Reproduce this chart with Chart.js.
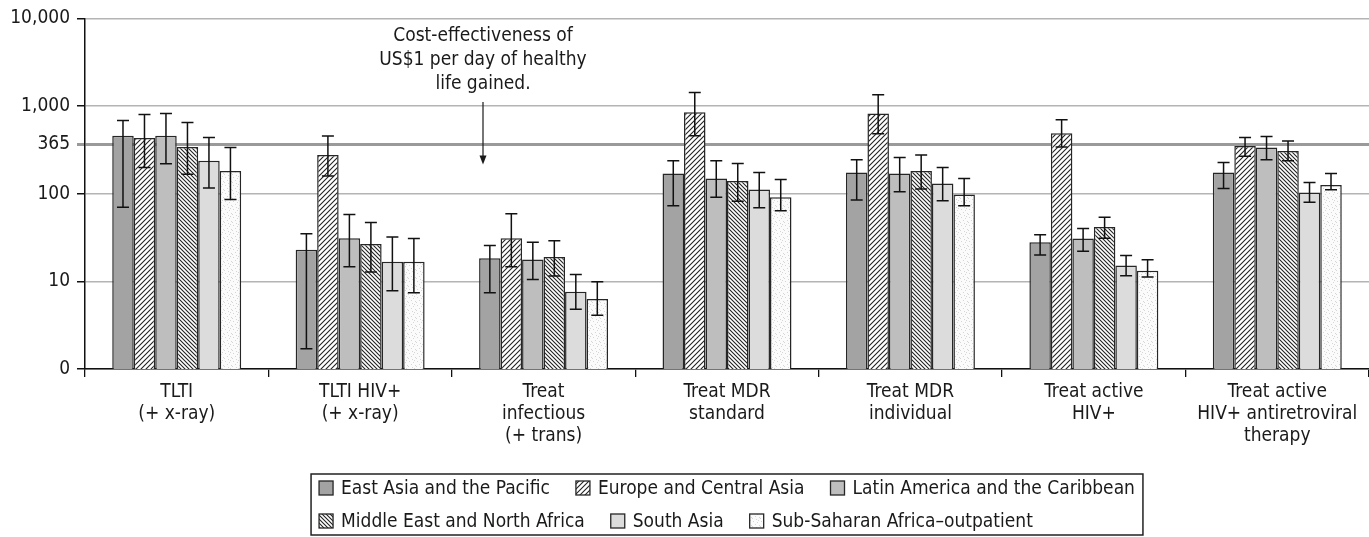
<!DOCTYPE html>
<html>
<head>
<meta charset="utf-8">
<script src="https://cdn.jsdelivr.net/npm/chart.js@4.4.1/dist/chart.umd.min.js"></script>
<style>
  body { margin: 0; background: #fff; }
  #wrap { width: 1369px; height: 537px; position: relative; }
</style>
</head>
<body>
<div id="wrap"><canvas id="chart"></canvas></div>
<script>
// categories and tick labels
var categories = [
    ['TLTI', '(+ x-ray)'],
    ['TLTI HIV+', '(+ x-ray)'],
    ['Treat', 'infectious', '(+ trans)'],
    ['Treat MDR', 'standard'],
    ['Treat MDR', 'individual'],
    ['Treat active', 'HIV+'],
    ['Treat active', 'HIV+ antiretroviral', 'therapy']
];
var yTicks = [1, 10, 100, 365, 1000, 10000];
var seriesNames = ['East Asia and the Pacific', 'Europe and Central Asia', 'Latin America and the Caribbean',
    'Middle East and North Africa', 'South Asia', 'Sub-Saharan Africa\u2013outpatient'];

// values (US$ per DALY, log scale) with low / high error ranges
var eastAsia      = [457, 23, 18.4, 170, 175, 28, 175];
var eastAsiaLow   = [70, 1.7, 7.4, 73, 85, 20, 115];
var eastAsiaHigh  = [684, 35, 25.7, 237, 244, 34, 227];

var europe        = [431, 277, 31, 851, 822, 491, 349];
var europeLow     = [199, 159, 14.7, 457, 482, 340, 268];
var europeHigh    = [800, 454, 59, 1425, 1343, 696, 437];

var latinAm       = [457, 31, 17.8, 149, 170, 30.8, 336];
var latinAmLow    = [219, 14.7, 10.5, 91, 105, 22, 244];
var latinAmHigh   = [822, 58, 28, 237, 259, 40, 449];

var mena          = [340, 26.6, 19, 140, 182, 41.6, 308];
var menaLow       = [167, 12.8, 11.5, 82, 113, 31, 237];
var menaHigh      = [649, 47, 29, 221, 277, 54, 398];

var southAsia     = [237, 16.7, 7.6, 112, 131, 15.2, 103];
var southAsiaLow  = [116, 7.8, 4.8, 69, 83, 11.6, 80];
var southAsiaHigh = [437, 32, 12, 175, 199, 19.7, 134];

var ssa           = [182, 16.7, 6.3, 91, 98, 13.2, 126];
var ssaLow        = [86, 7.4, 4.1, 64, 73, 11.2, 111];
var ssaHigh       = [336, 30.8, 9.9, 145, 149, 17.6, 170];

var FONT = "'Liberation Sans Narrow', 'DejaVu Sans Condensed', 'Roboto Condensed', sans-serif";
var FSIZE = 19;

// fill patterns
function hatch(size, dir) {
    var c = document.createElement('canvas');
    c.width = c.height = size;
    var g = c.getContext('2d');
    g.fillStyle = '#fff';
    g.fillRect(0, 0, size, size);
    g.strokeStyle = '#222';
    g.lineWidth = 1.1;
    g.beginPath();
    if (dir === '/') {
        g.moveTo(-1, size + 1); g.lineTo(size + 1, -1);
        g.moveTo(-1, 1); g.lineTo(1, -1);
        g.moveTo(size - 1, size + 1); g.lineTo(size + 1, size - 1);
    } else {
        g.moveTo(-1, -1); g.lineTo(size + 1, size + 1);
        g.moveTo(size - 1, -1); g.lineTo(size + 1, 1);
        g.moveTo(-1, size - 1); g.lineTo(1, size + 1);
    }
    g.stroke();
    return g.createPattern(c, 'repeat');
}
function stipple() {
    var c = document.createElement('canvas');
    c.width = c.height = 8;
    var g = c.getContext('2d');
    g.fillStyle = '#fbfbfb';
    g.fillRect(0, 0, 8, 8);
    g.fillStyle = '#d6d6d6';
    [[1, 1], [5, 2], [3, 4], [7, 5], [0, 6], [4, 7], [6, 0]].forEach(function(p) {
        g.fillRect(p[0], p[1], 1, 1);
    });
    return g.createPattern(c, 'repeat');
}

var fills = ['#a3a3a3', hatch(5, '/'), '#bebebe', hatch(4, '\\'), '#dcdcdc', stipple()];
var values = [eastAsia, europe, latinAm, mena, southAsia, ssa];
var lows = [eastAsiaLow, europeLow, latinAmLow, menaLow, southAsiaLow, ssaLow];
var highs = [eastAsiaHigh, europeHigh, latinAmHigh, menaHigh, southAsiaHigh, ssaHigh];

var datasets = values.map(function(v, i) {
    return {
        label: seriesNames[i],
        data: v,
        backgroundColor: fills[i],
        borderColor: '#262626',
        borderWidth: 1.5,
        categoryPercentage: 0.703,
        barPercentage: 1.0
    };
});

// error bars drawn from the low/high arrays through the y scale
var errorBars = {
    id: 'errorBars',
    afterDatasetsDraw: function(chart) {
        var ctx = chart.ctx, y = chart.scales.y;
        ctx.save();
        ctx.strokeStyle = '#111';
        ctx.lineWidth = 1.5;
        chart.data.datasets.forEach(function(ds, i) {
            chart.getDatasetMeta(i).data.forEach(function(bar, j) {
                var yl = y.getPixelForValue(lows[i][j]);
                var yh = y.getPixelForValue(highs[i][j]);
                ctx.beginPath();
                ctx.moveTo(bar.x, yl); ctx.lineTo(bar.x, yh);
                ctx.moveTo(bar.x - 6, yl); ctx.lineTo(bar.x + 6, yl);
                ctx.moveTo(bar.x - 6, yh); ctx.lineTo(bar.x + 6, yh);
                ctx.stroke();
            });
        });
        ctx.restore();
    }
};

// note and arrow
var note = {
    id: 'note',
    afterDraw: function(chart) {
        var ctx = chart.ctx, y = chart.scales.y;
        var cx = 483;
        ctx.save();
        ctx.fillStyle = '#1a1a1a';
        ctx.font = FSIZE + 'px ' + FONT;
        ctx.textAlign = 'center';
        ctx.textBaseline = 'middle';
        ['Cost-effectiveness of', 'US$1 per day of healthy', 'life gained.'].forEach(function(t, k) {
            ctx.fillText(t, cx, 36 + k * 24);
        });
        var tip = y.getPixelForValue(215);
        ctx.strokeStyle = '#1a1a1a';
        ctx.lineWidth = 1.2;
        ctx.beginPath();
        ctx.moveTo(cx, 102); ctx.lineTo(cx, tip - 6);
        ctx.stroke();
        ctx.beginPath();
        ctx.moveTo(cx - 3.5, tip - 9); ctx.lineTo(cx + 3.5, tip - 9); ctx.lineTo(cx, tip);
        ctx.closePath();
        ctx.fill();
        ctx.restore();
    }
};

// boxed legend, rows left aligned
var boxLegend = {
    id: 'boxLegend',
    afterDraw: function(chart) {
        var ctx = chart.ctx, area = chart.chartArea;
        var rows = [[0, 1, 2], [3, 4, 5]];
        var rowY = [488, 521];
        ctx.save();
        ctx.font = FSIZE + 'px ' + FONT;
        ctx.textBaseline = 'middle';
        var widths = rows.map(function(r) {
            return r.reduce(function(s, i, k) {
                return s + 22 + ctx.measureText(seriesNames[i]).width + (k < r.length - 1 ? 26 : 0);
            }, 0);
        });
        var inner = Math.max.apply(null, widths);
        var boxW = inner + 16;
        var left = (area.left + area.right) / 2 - boxW / 2;
        ctx.strokeStyle = '#222';
        ctx.lineWidth = 1.5;
        ctx.strokeRect(left, 474, boxW, 61);
        rows.forEach(function(r, ri) {
            var x = left + 8;
            r.forEach(function(i) {
                ctx.fillStyle = fills[i];
                ctx.fillRect(x, rowY[ri] - 7, 14, 14);
                ctx.strokeStyle = '#262626';
                ctx.lineWidth = 1.3;
                ctx.strokeRect(x, rowY[ri] - 7, 14, 14);
                ctx.fillStyle = '#1a1a1a';
                ctx.fillText(seriesNames[i], x + 22, rowY[ri] + 1);
                x += 22 + ctx.measureText(seriesNames[i]).width + 26;
            });
        });
        ctx.restore();
    }
};

var ctx = document.getElementById('chart').getContext('2d');
var chartobj = new Chart(ctx, {
    type: 'bar',
    data: { labels: categories, datasets: datasets },
    plugins: [errorBars, note, boxLegend],
    options: {
        responsive: true,
        maintainAspectRatio: false,
        animation: false,
        layout: { padding: { top: 18, right: 0, left: 0, bottom: 0 } },
        plugins: {
            legend: { display: false },
            tooltip: { enabled: false }
        },
        scales: {
            x: {
                afterFit: function(scale) { scale.height = 168; },
                border: { color: '#111', width: 1.5 },
                grid: {
                    offset: true,
                    drawOnChartArea: false,
                    tickLength: 8,
                    tickColor: '#111',
                    lineWidth: 1.3
                },
                ticks: {
                    autoSkip: false,
                    maxRotation: 0,
                    padding: 4,
                    color: '#1a1a1a',
                    font: { family: FONT, size: FSIZE, lineHeight: 1.16 }
                }
            },
            y: {
                type: 'logarithmic',
                min: 1,
                max: 10000,
                afterFit: function(scale) { scale.width = 85; },
                afterBuildTicks: function(scale) {
                    scale.ticks = yTicks.map(function(v) { return { value: v }; });
                },
                border: { color: '#111', width: 1.5 },
                grid: {
                    color: function(c) { return c.tick && c.tick.value === 365 ? '#9a9a9a' : '#b4b4b4'; },
                    lineWidth: function(c) { return c.tick && c.tick.value === 365 ? 3 : 1.5; },
                    tickColor: function(c) { return c.tick && c.tick.value === 365 ? '#9a9a9a' : '#111'; },
                    tickLength: 8
                },
                ticks: {
                    padding: 7,
                    color: '#1a1a1a',
                    font: { family: FONT, size: FSIZE },
                    callback: function(v) { return v === 1 ? '0' : Number(v).toLocaleString('en-US'); }
                }
            }
        }
    }
});
</script>
</body>
</html>
